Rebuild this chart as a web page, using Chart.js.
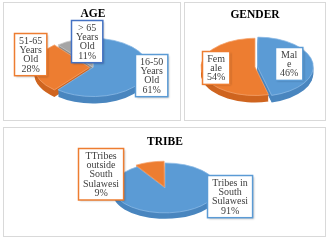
<!DOCTYPE html>
<html>
<head>
<meta charset="utf-8">
<script src="https://cdn.jsdelivr.net/npm/chart.js@4.4.1/dist/chart.umd.min.js"></script>
<style>
  html, body { margin: 0; padding: 0; background: #fff; }
  body { width: 330px; height: 240px; position: relative; overflow: hidden; }
  .panel { position: absolute; box-shadow: inset 0 0 0 1px #d9d9d9; }
  #agePanel { left: 3px; top: 2px; width: 178px; height: 119px; }
  #genderPanel { left: 184px; top: 2px; width: 142px; height: 119px; }
  #tribePanel { left: 3px; top: 127px; width: 323px; height: 110px; }
</style>
</head>
<body>
<div class="panel" id="agePanel"><canvas id="ageChart"></canvas></div>
<div class="panel" id="genderPanel"><canvas id="genderChart"></canvas></div>
<div class="panel" id="tribePanel"><canvas id="tribeChart"></canvas></div>
<script>
/*
* Data
*/
var ageLabels = [['16-50', 'Years', 'Old'], ['51-65', 'Years', 'Old'], ['> 65', 'Years', 'Old']];
var ageValues = [61, 28, 11];

var genderLabels = [['Mal', 'e'], ['Fem', 'ale']];
var genderValues = [46, 54];

var tribeLabels = [['Tribes in', 'South', 'Sulawesi'], ['TTribes', 'outside', 'South', 'Sulawesi']];
var tribeValues = [91, 9];

/*
* Styles
*/
var blue = '#5b9bd5', orange = '#ed7d31', grey = '#a5a5a5';
var blueSide = '#4a86bf', orangeSide = '#cf6520', greySide = '#8c8c8c';
var textColor = '#404040';

Chart.defaults.font.family = '"Liberation Serif", "Times New Roman", serif';

// squash the pie into an ellipse and draw the rim underneath
var tiltPlugin = {
    id: 'tilt',
    beforeDatasetsDraw: function(chart, args, opts) {
        var ctx = chart.ctx;
        var arcs = chart.getDatasetMeta(0).data;
        var cx = arcs[0].x, cy = arcs[0].y;
        ctx.save();
        ctx.translate(cx, cy);
        ctx.scale(1, opts.k);
        ctx.translate(-cx, -cy);
        for (var d = opts.depth; d > 0; d--) {
            ctx.save();
            ctx.translate(0, d / opts.k);
            for (var i = 0; i < arcs.length; i++) {
                var o = arcs[i].options;
                arcs[i].options = Object.assign({}, o, {backgroundColor: opts.sides[i], borderWidth: 0});
                arcs[i].draw(ctx);
                arcs[i].options = o;
            }
            ctx.restore();
        }
    },
    afterDatasetsDraw: function(chart) {
        chart.ctx.restore();
    }
};

// callout boxes next to the slices
var calloutPlugin = {
    id: 'callout',
    afterDraw: function(chart, args, opts) {
        var ctx = chart.ctx;
        var arcs = chart.getDatasetMeta(0).data;
        var labels = chart.data.labels;
        var values = chart.data.datasets[0].data;
        var total = values.reduce(function(a, b) { return a + b; }, 0);
        var lh = 9.3, padX = 4.5, padY = 2.5;
        ctx.save();
        ctx.font = '10px "Liberation Serif", serif';
        for (var i = 0; i < arcs.length; i++) {
            var a = arcs[i];
            var mid = (a.startAngle + a.endAngle) / 2;
            var ax = a.x + Math.cos(mid) * a.outerRadius;
            var ay = a.y + Math.sin(mid) * a.outerRadius * opts.k;
            var lines = labels[i].concat([Math.round(values[i] / total * 100) + '%']);
            var w = 0;
            for (var j = 0; j < lines.length; j++) {
                w = Math.max(w, ctx.measureText(lines[j]).width);
            }
            w += padX * 2;
            var h = lines.length * lh + padY * 2;
            var bx = Math.round(ax + opts.shift[i][0] - w / 2) + 0.5;
            var by = Math.round(ay + opts.shift[i][1] - h / 2) + 0.5;
            ctx.shadowColor = 'rgba(0,0,0,0.25)';
            ctx.shadowBlur = 2;
            ctx.shadowOffsetX = 1;
            ctx.shadowOffsetY = 1;
            ctx.fillStyle = '#fff';
            ctx.fillRect(bx, by, w, h);
            ctx.shadowColor = 'transparent';
            ctx.strokeStyle = opts.borders[i];
            ctx.lineWidth = 1.5;
            ctx.strokeRect(bx, by, w, h);
            ctx.fillStyle = textColor;
            ctx.textAlign = 'center';
            ctx.textBaseline = 'middle';
            for (var j = 0; j < lines.length; j++) {
                ctx.fillText(lines[j], bx + w / 2, by + padY + lh * (j + 0.5) + 0.5);
            }
        }
        ctx.restore();
    }
};

function makePie(id, title, labels, values, cfg) {
    return new Chart(document.getElementById(id), {
        type: 'pie',
        data: {
            labels: labels,
            datasets: [{
                data: values,
                backgroundColor: cfg.colors,
                borderColor: cfg.edges,
                borderWidth: 1,
                offset: cfg.offset,
                radius: cfg.radius,
                clip: false
            }]
        },
        options: {
            responsive: true,
            maintainAspectRatio: false,
            animation: false,
            events: [],
            layout: { padding: cfg.padding },
            plugins: {
                legend: { display: false },
                tooltip: { enabled: false },
                title: {
                    display: true,
                    text: title,
                    color: '#000',
                    font: { size: 11.5, weight: 'bold' },
                    padding: { top: cfg.titleTop, bottom: 0 }
                },
                tilt: { k: cfg.k, depth: cfg.depth, sides: cfg.sides },
                callout: { k: cfg.k, shift: cfg.shift, borders: cfg.borders }
            }
        },
        plugins: [tiltPlugin, calloutPlugin]
    });
}

makePie('ageChart', 'AGE', ageLabels, ageValues, {
    colors: [blue, orange, grey],
    edges: ['#8dbbe6', '#f5a36d', '#c8c8c8'],
    sides: [blueSide, orangeSide, greySide],
    offset: [0, 14, 0],
    radius: 55,
    k: 0.53,
    depth: 7,
    titleTop: 5,
    padding: { left: 2, right: 0, top: 0, bottom: 7 },
    shift: [[6, -2], [-8, -13.5], [12, 1]],
    borders: [blue, orange, '#4472c4']
});

makePie('genderChart', 'GENDER', genderLabels, genderValues, {
    colors: [blue, orange],
    edges: ['#8dbbe6', '#f5a36d'],
    sides: [blueSide, orangeSide],
    offset: [10, 0],
    radius: 54,
    k: 0.53,
    depth: 7,
    titleTop: 6,
    padding: { left: 0, right: 0, top: 0, bottom: 9 },
    shift: [[-19.5, 0], [14.5, -3.5]],
    borders: [blue, orange]
});

makePie('tribeChart', 'TRIBE', tribeLabels, tribeValues, {
    colors: [blue, orange],
    edges: ['#8dbbe6', '#f5a36d'],
    sides: [blueSide, orangeSide],
    offset: [0, 10],
    radius: 52,
    k: 0.48,
    depth: 6,
    titleTop: 8,
    padding: { left: 1, right: 0, top: 0, bottom: 10 },
    shift: [[50.5, -16], [-50, 10]],
    borders: [blue, orange]
});
</script>
</body>
</html>
